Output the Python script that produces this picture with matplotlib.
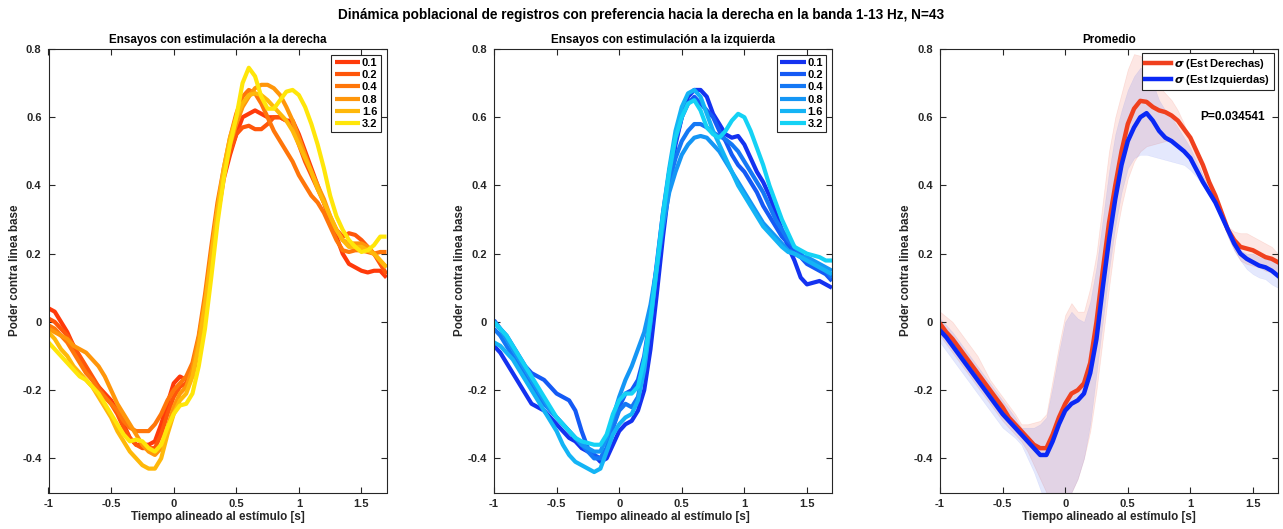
import numpy as np
import matplotlib
matplotlib.use("Agg")
import matplotlib.pyplot as plt

# ---------------- data ----------------
t = np.round(np.arange(-1.0, 1.7001, 0.05), 2)

freq_labels = ["0.1", "0.2", "0.4", "0.8", "1.6", "3.2"]

# Panel 1: stimulation on the right
der_01 = [0.04, 0.03, 0.0, -0.03, -0.07, -0.11, -0.14, -0.17, -0.19, -0.21, -0.23, -0.26, -0.3, -0.34, -0.36, -0.36, -0.36, -0.35, -0.3, -0.24, -0.18, -0.16, -0.17, -0.16, -0.08, 0.04, 0.18, 0.31, 0.42, 0.49, 0.55, 0.6, 0.61, 0.62, 0.61, 0.6, 0.6, 0.6, 0.59, 0.59, 0.55, 0.5, 0.45, 0.4, 0.35, 0.3, 0.25, 0.2, 0.17, 0.16, 0.15, 0.145, 0.15, 0.15, 0.13]
der_02 = [0.01, 0.0, -0.02, -0.04, -0.07, -0.1, -0.13, -0.16, -0.19, -0.22, -0.24, -0.27, -0.31, -0.34, -0.36, -0.37, -0.37, -0.37, -0.33, -0.27, -0.22, -0.19, -0.18, -0.13, -0.05, 0.06, 0.2, 0.33, 0.43, 0.5, 0.55, 0.57, 0.575, 0.565, 0.565, 0.58, 0.6, 0.6, 0.59, 0.57, 0.52, 0.47, 0.43, 0.39, 0.35, 0.3, 0.27, 0.25, 0.26, 0.255, 0.24, 0.22, 0.2, 0.17, 0.14]
der_04 = [-0.01, -0.02, -0.04, -0.06, -0.09, -0.12, -0.15, -0.17, -0.2, -0.22, -0.24, -0.26, -0.29, -0.31, -0.32, -0.32, -0.32, -0.3, -0.27, -0.23, -0.2, -0.18, -0.16, -0.12, -0.04, 0.08, 0.22, 0.35, 0.45, 0.54, 0.61, 0.66, 0.68, 0.67, 0.64, 0.6, 0.56, 0.53, 0.5, 0.47, 0.43, 0.4, 0.37, 0.35, 0.32, 0.28, 0.24, 0.21, 0.205, 0.21, 0.21, 0.205, 0.2, 0.205, 0.205]
der_08 = [-0.02, -0.03, -0.04, -0.05, -0.07, -0.08, -0.09, -0.11, -0.13, -0.16, -0.2, -0.24, -0.27, -0.3, -0.33, -0.36, -0.38, -0.39, -0.37, -0.31, -0.25, -0.21, -0.19, -0.14, -0.05, 0.06, 0.2, 0.33, 0.44, 0.52, 0.58, 0.63, 0.66, 0.685, 0.695, 0.695, 0.685, 0.665, 0.63, 0.59, 0.54, 0.49, 0.44, 0.4, 0.36, 0.31, 0.27, 0.24, 0.23, 0.23, 0.23, 0.22, 0.2, 0.18, 0.16]
der_16 = [-0.03, -0.05, -0.08, -0.1, -0.13, -0.15, -0.17, -0.19, -0.22, -0.25, -0.28, -0.32, -0.35, -0.38, -0.4, -0.42, -0.43, -0.43, -0.4, -0.33, -0.27, -0.23, -0.21, -0.16, -0.07, 0.05, 0.19, 0.33, 0.45, 0.54, 0.6, 0.64, 0.665, 0.67, 0.665, 0.65, 0.63, 0.61, 0.59, 0.56, 0.52, 0.48, 0.44, 0.39, 0.35, 0.31, 0.27, 0.24, 0.22, 0.22, 0.22, 0.21, 0.2, 0.18, 0.16]
der_32 = [-0.06, -0.08, -0.1, -0.12, -0.14, -0.16, -0.17, -0.19, -0.21, -0.24, -0.27, -0.3, -0.33, -0.35, -0.345, -0.35, -0.37, -0.38, -0.36, -0.31, -0.27, -0.245, -0.24, -0.21, -0.13, -0.02, 0.13, 0.29, 0.42, 0.52, 0.6, 0.7, 0.745, 0.72, 0.66, 0.625, 0.625, 0.65, 0.675, 0.68, 0.665, 0.63, 0.58, 0.52, 0.45, 0.37, 0.31, 0.27, 0.24, 0.22, 0.205, 0.21, 0.225, 0.25, 0.25]

# Panel 2: stimulation on the left
izq_01 = [-0.07, -0.09, -0.12, -0.15, -0.18, -0.21, -0.24, -0.25, -0.26, -0.28, -0.3, -0.32, -0.34, -0.35, -0.37, -0.38, -0.39, -0.41, -0.4, -0.36, -0.32, -0.3, -0.29, -0.26, -0.2, -0.08, 0.08, 0.25, 0.4, 0.52, 0.6, 0.66, 0.68, 0.68, 0.66, 0.61, 0.58, 0.55, 0.54, 0.545, 0.52, 0.48, 0.44, 0.41, 0.37, 0.32, 0.27, 0.22, 0.18, 0.13, 0.11, 0.115, 0.12, 0.11, 0.1]
izq_02 = [0.005, -0.02, -0.04, -0.07, -0.1, -0.13, -0.15, -0.16, -0.17, -0.19, -0.21, -0.22, -0.23, -0.26, -0.32, -0.37, -0.39, -0.4, -0.37, -0.31, -0.25, -0.21, -0.2, -0.17, -0.1, 0.02, 0.17, 0.32, 0.44, 0.53, 0.6, 0.64, 0.66, 0.64, 0.62, 0.6, 0.56, 0.53, 0.49, 0.46, 0.44, 0.41, 0.38, 0.34, 0.31, 0.28, 0.25, 0.23, 0.21, 0.19, 0.17, 0.16, 0.15, 0.14, 0.12]
izq_04 = [-0.02, -0.04, -0.07, -0.1, -0.13, -0.16, -0.19, -0.22, -0.24, -0.26, -0.28, -0.3, -0.32, -0.34, -0.36, -0.38, -0.4, -0.4, -0.37, -0.31, -0.26, -0.24, -0.25, -0.22, -0.13, 0.0, 0.15, 0.3, 0.41, 0.48, 0.53, 0.56, 0.58, 0.58, 0.57, 0.555, 0.545, 0.535, 0.52, 0.5, 0.47, 0.44, 0.41, 0.38, 0.34, 0.3, 0.27, 0.24, 0.22, 0.2, 0.18, 0.17, 0.16, 0.15, 0.13]
izq_08 = [0.0, -0.02, -0.05, -0.08, -0.11, -0.14, -0.17, -0.2, -0.23, -0.26, -0.28, -0.3, -0.32, -0.34, -0.36, -0.37, -0.38, -0.38, -0.34, -0.28, -0.22, -0.17, -0.13, -0.08, -0.03, 0.05, 0.16, 0.28, 0.38, 0.44, 0.49, 0.52, 0.54, 0.545, 0.54, 0.52, 0.5, 0.47, 0.44, 0.41, 0.38, 0.35, 0.32, 0.29, 0.27, 0.25, 0.23, 0.21, 0.2, 0.19, 0.19, 0.18, 0.17, 0.16, 0.15]
izq_16 = [-0.06, -0.07, -0.09, -0.11, -0.14, -0.17, -0.2, -0.23, -0.26, -0.29, -0.32, -0.36, -0.39, -0.41, -0.42, -0.43, -0.44, -0.43, -0.38, -0.33, -0.3, -0.28, -0.27, -0.23, -0.14, 0.0, 0.16, 0.32, 0.45, 0.56, 0.63, 0.67, 0.68, 0.66, 0.61, 0.56, 0.52, 0.48, 0.44, 0.4, 0.37, 0.34, 0.31, 0.28, 0.26, 0.24, 0.22, 0.205, 0.2, 0.19, 0.18, 0.17, 0.16, 0.15, 0.14]
izq_32 = [0.0, -0.02, -0.04, -0.07, -0.1, -0.13, -0.16, -0.19, -0.22, -0.25, -0.28, -0.3, -0.32, -0.34, -0.35, -0.355, -0.36, -0.36, -0.33, -0.27, -0.23, -0.21, -0.21, -0.19, -0.11, 0.01, 0.16, 0.31, 0.44, 0.54, 0.6, 0.64, 0.65, 0.62, 0.57, 0.55, 0.54, 0.56, 0.59, 0.61, 0.6, 0.56, 0.51, 0.46, 0.4, 0.35, 0.3, 0.26, 0.22, 0.21, 0.2, 0.195, 0.19, 0.18, 0.18]

# Panel 3: averages and their bands
prom_der = [-0.005, -0.03, -0.05, -0.075, -0.1, -0.125, -0.15, -0.175, -0.2, -0.225, -0.25, -0.28, -0.3, -0.32, -0.34, -0.36, -0.37, -0.37, -0.33, -0.28, -0.24, -0.21, -0.2, -0.18, -0.12, 0.0, 0.15, 0.29, 0.4, 0.5, 0.58, 0.625, 0.648, 0.645, 0.63, 0.62, 0.615, 0.605, 0.59, 0.565, 0.54, 0.5, 0.46, 0.41, 0.37, 0.32, 0.27, 0.24, 0.22, 0.215, 0.21, 0.2, 0.19, 0.185, 0.175]
prom_izq = [-0.025, -0.045, -0.07, -0.095, -0.12, -0.145, -0.17, -0.195, -0.22, -0.245, -0.27, -0.29, -0.31, -0.33, -0.35, -0.37, -0.39, -0.39, -0.35, -0.3, -0.26, -0.24, -0.23, -0.21, -0.15, -0.05, 0.1, 0.24, 0.36, 0.46, 0.53, 0.57, 0.6, 0.612, 0.59, 0.56, 0.54, 0.53, 0.515, 0.5, 0.48, 0.445, 0.41, 0.38, 0.35, 0.31, 0.27, 0.23, 0.2, 0.185, 0.175, 0.165, 0.16, 0.15, 0.135]
der_sup = [0.03, 0.015, 0.0, -0.025, -0.05, -0.075, -0.1, -0.135, -0.17, -0.195, -0.22, -0.245, -0.27, -0.3, -0.3, -0.295, -0.29, -0.27, -0.17, -0.07, 0.02, 0.055, 0.03, 0.03, 0.1, 0.2, 0.35, 0.5, 0.6, 0.67, 0.74, 0.785, 0.78, 0.76, 0.72, 0.69, 0.67, 0.65, 0.62, 0.58, 0.53, 0.48, 0.43, 0.39, 0.35, 0.31, 0.28, 0.265, 0.26, 0.26, 0.25, 0.24, 0.23, 0.22, 0.2]
der_inf = [-0.04, -0.065, -0.09, -0.115, -0.14, -0.165, -0.19, -0.215, -0.24, -0.265, -0.29, -0.31, -0.33, -0.35, -0.38, -0.42, -0.46, -0.5, -0.54, -0.56, -0.55, -0.5, -0.46, -0.4, -0.32, -0.2, -0.05, 0.1, 0.24, 0.34, 0.42, 0.47, 0.5, 0.515, 0.52, 0.525, 0.53, 0.53, 0.52, 0.5, 0.48, 0.45, 0.42, 0.38, 0.34, 0.3, 0.25, 0.21, 0.18, 0.17, 0.165, 0.16, 0.15, 0.145, 0.14]
izq_sup = [0.01, -0.01, -0.03, -0.055, -0.08, -0.105, -0.13, -0.155, -0.18, -0.205, -0.23, -0.255, -0.28, -0.31, -0.31, -0.31, -0.3, -0.28, -0.19, -0.09, 0.0, 0.03, 0.01, 0.0, 0.06, 0.16, 0.3, 0.44, 0.55, 0.62, 0.68, 0.72, 0.745, 0.74, 0.7, 0.65, 0.62, 0.6, 0.57, 0.54, 0.51, 0.47, 0.43, 0.39, 0.35, 0.3, 0.26, 0.23, 0.21, 0.2, 0.2, 0.19, 0.185, 0.18, 0.17]
izq_inf = [-0.06, -0.085, -0.11, -0.135, -0.16, -0.185, -0.21, -0.235, -0.26, -0.285, -0.31, -0.325, -0.34, -0.36, -0.4, -0.44, -0.49, -0.54, -0.58, -0.58, -0.56, -0.5, -0.46, -0.4, -0.3, -0.15, 0.0, 0.15, 0.28, 0.38, 0.45, 0.48, 0.49, 0.49, 0.485, 0.48, 0.475, 0.47, 0.465, 0.46, 0.445, 0.425, 0.4, 0.37, 0.34, 0.3, 0.25, 0.21, 0.18, 0.155, 0.14, 0.13, 0.125, 0.11, 0.1]

p_text = "P=0.034541"

der_series = [der_01, der_02, der_04, der_08, der_16, der_32]
izq_series = [izq_01, izq_02, izq_04, izq_08, izq_16, izq_32]

der_colors = ["#ff3a0a", "#ff560a", "#ff760a", "#ff960a", "#ffb80a", "#ffe60a"]
izq_colors = ["#1432f0", "#145af5", "#1478f5", "#1496f5", "#14b4f5", "#14d2f5"]

# ---------------- style ----------------
plt.rcParams['font.family'] = ['Liberation Sans', 'DejaVu Sans']
plt.rcParams['font.weight'] = 'bold'
plt.rcParams['axes.labelweight'] = 'bold'
plt.rcParams['axes.titleweight'] = 'bold'
plt.rcParams['mathtext.fontset'] = 'dejavusans'

axcol = '#262626'
fig = plt.figure(figsize=(12.83, 5.29), dpi=100)
lefts = [48.5 / 1283, 494 / 1283, 940 / 1283]
w = 338 / 1283
b = (529 - 492.5) / 529
h = 443.5 / 529
axes = [fig.add_axes([l, b, w, h]) for l in lefts]

titles = ["Ensayos con estimulación a la derecha",
          "Ensayos con estimulación a la izquierda",
          "Promedio"]


def style(ax, title):
    ax.set_xlim(-1, 1.7)
    ax.set_ylim(-0.5, 0.8)
    ax.set_xticks([-1, -0.5, 0, 0.5, 1, 1.5])
    ax.set_xticklabels(["-1", "-0.5", "0", "0.5", "1", "1.5"])
    ax.set_yticks([-0.4, -0.2, 0, 0.2, 0.4, 0.6, 0.8])
    ax.set_yticklabels(["-0.4", "-0.2", "0", "0.2", "0.4", "0.6", "0.8"])
    ax.tick_params(direction='in', length=4, width=0.8, top=True, right=True,
                   labelsize=8, colors=axcol, pad=5)
    for s in ax.spines.values():
        s.set_color(axcol)
        s.set_linewidth(0.8)
    ax.set_title(title, fontsize=8.4, fontweight='bold', pad=4, color='black')
    ax.set_xlabel("Tiempo alineado al estímulo [s]", fontsize=8.4, color=axcol, labelpad=1)
    ax.set_ylabel("Poder contra linea base", fontsize=8.4, color=axcol, labelpad=1)


for ax, series, cols, title in [(axes[0], der_series, der_colors, titles[0]),
                                (axes[1], izq_series, izq_colors, titles[1])]:
    for y, c, lab in zip(series, cols, freq_labels):
        ax.plot(t, y, color=c, lw=3.0, label=lab, solid_joinstyle='round',
                solid_capstyle='butt')
    style(ax, title)
    leg = ax.legend(loc='upper right', fontsize=8, handlelength=2.3,
                    handletextpad=0.15, labelspacing=0.2, borderpad=0.3,
                    borderaxespad=0.5, fancybox=False, framealpha=1)
    leg.get_frame().set_edgecolor(axcol)
    leg.get_frame().set_linewidth(0.8)
    for ln in leg.get_lines():
        ln.set_linewidth(3.0)

ax = axes[2]
ax.fill_between(t, der_inf, der_sup, facecolor='#f04a30', alpha=0.13,
                edgecolor='#f04a30', linewidth=0.5)
ax.fill_between(t, izq_inf, izq_sup, facecolor='#3050f0', alpha=0.13,
                edgecolor='#3050f0', linewidth=0.3)
ax.plot(t, prom_der, color='#f0401e', lw=3.2, label=r'$\sigma$ (Est Derechas)',
        solid_joinstyle='round')
ax.plot(t, prom_izq, color='#0a28f5', lw=3.2, label=r'$\sigma$ (Est Izquierdas)',
        solid_joinstyle='round')
style(ax, titles[2])
ax.text(1.08, 0.6, p_text, fontsize=8.6, fontweight='bold', ha='left', va='center',
        color='black')
leg = ax.legend(loc='upper right', fontsize=8, handlelength=2.3,
                handletextpad=0.3, labelspacing=0.2, borderpad=0.3,
                borderaxespad=0.4, fancybox=False, framealpha=1)
leg.get_frame().set_edgecolor(axcol)
leg.get_frame().set_linewidth(0.8)

fig.suptitle("Dinámica poblacional de registros con preferencia hacia la derecha en la banda 1-13 Hz, N=43",
             fontsize=9.8, fontweight='bold', y=0.985)

fig.savefig("out.png", dpi=100)
